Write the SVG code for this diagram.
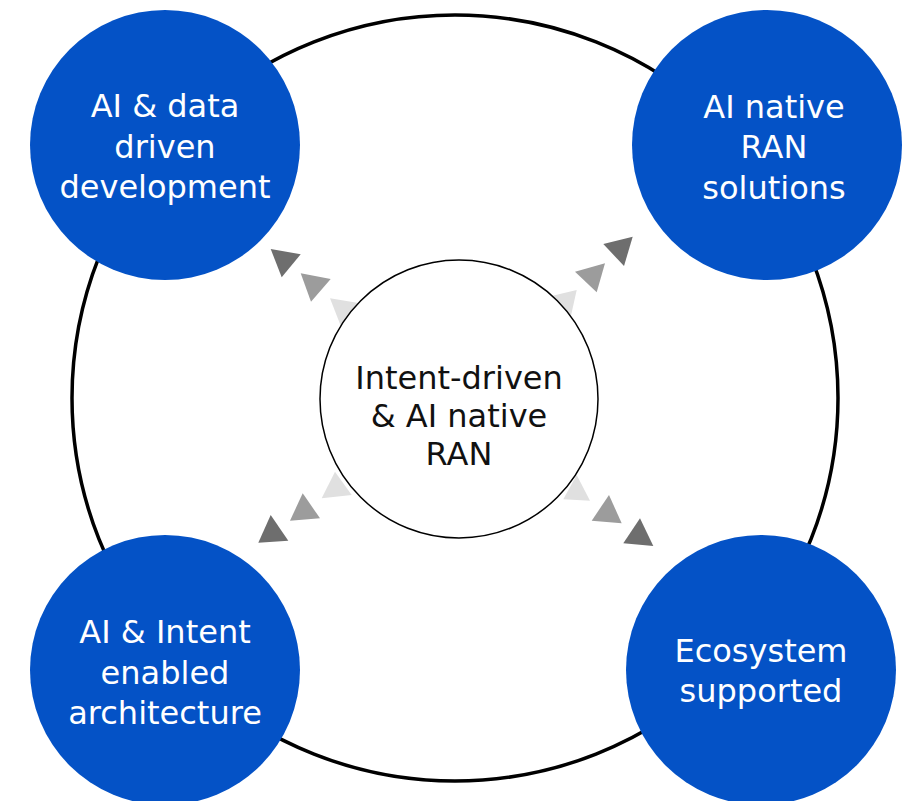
<svg xmlns="http://www.w3.org/2000/svg" width="915" height="801" viewBox="0 0 915 801">
  <style>
    .ring { fill: none; stroke: #000; stroke-width: 3.5; }
    .hub { fill: #fff; stroke: #000; stroke-width: 1.5; }
    .pillar { fill: #0452c6; }
    .lbl { font-family: "DejaVu Sans", "Noto Sans", sans-serif; font-size: 32px; text-anchor: middle; }
    .lbl-w { fill: #fff; }
    .lbl-k { fill: #111; }
    .t-dark { fill: #6e6e6e; }
    .t-mid { fill: #9c9c9c; }
    .t-light { fill: #e0e0e0; }
  </style>

  <rect width="915" height="801" fill="#fff"/>

  <!-- outer ring linking the four pillars -->
  <circle class="ring" cx="455" cy="398" r="383"/>

  <!-- connectors: stepped triangles radiating from the hub -->
  <g id="connectors">
    <!-- up-left -->
    <polygon class="t-dark" points="270.7,249 300.7,254.3 281.7,277.3"/>
    <polygon class="t-mid" points="300.7,273.3 330.7,279 311,301.7"/>
    <polygon class="t-light" points="330,298.3 360,303.3 341.7,328.3"/>
    <!-- up-right -->
    <polygon class="t-dark" points="603.3,244 632.7,236.7 624,266"/>
    <polygon class="t-mid" points="575,271.7 605,263.3 596.7,292.3"/>
    <polygon class="t-light" points="548.3,296.7 576.7,290 570,320"/>
    <!-- down-left -->
    <polygon class="t-dark" points="270.7,515 288.3,540.7 258.3,542.7"/>
    <polygon class="t-mid" points="302.7,493.3 320,518.3 290,520.7"/>
    <polygon class="t-light" points="335,471.7 351.7,495 321.7,498.3"/>
    <!-- down-right -->
    <polygon class="t-light" points="576.7,475 590,500.7 563.3,499.3"/>
    <polygon class="t-mid" points="609,495 621.7,523.3 591.7,520.7"/>
    <polygon class="t-dark" points="640,518.3 653.3,546 623.3,543.3"/>
  </g>

  <g id="hub">
    <circle class="hub" cx="459" cy="399" r="139"/>
    <text class="lbl lbl-k" x="459" y="389">Intent-driven</text>
    <text class="lbl lbl-k" x="459" y="427">&amp; AI native</text>
    <text class="lbl lbl-k" x="459" y="465">RAN</text>
  </g>

  <g id="ai-data-driven-development">
    <circle class="pillar" cx="165" cy="145" r="135"/>
    <text class="lbl lbl-w" x="165" y="117">AI &amp; data</text>
    <text class="lbl lbl-w" x="165" y="158">driven</text>
    <text class="lbl lbl-w" x="165" y="198">development</text>
  </g>

  <g id="ai-native-ran-solutions">
    <circle class="pillar" cx="767" cy="145" r="135"/>
    <text class="lbl lbl-w" x="774" y="118">AI native</text>
    <text class="lbl lbl-w" x="774" y="158">RAN</text>
    <text class="lbl lbl-w" x="774" y="199">solutions</text>
  </g>

  <g id="ai-intent-enabled-architecture">
    <circle class="pillar" cx="165" cy="670" r="135"/>
    <text class="lbl lbl-w" x="165" y="643">AI &amp; Intent</text>
    <text class="lbl lbl-w" x="165" y="684">enabled</text>
    <text class="lbl lbl-w" x="165" y="724">architecture</text>
  </g>

  <g id="ecosystem-supported">
    <circle class="pillar" cx="761" cy="670" r="135"/>
    <text class="lbl lbl-w" x="761" y="662">Ecosystem</text>
    <text class="lbl lbl-w" x="761" y="702">supported</text>
  </g>
</svg>
